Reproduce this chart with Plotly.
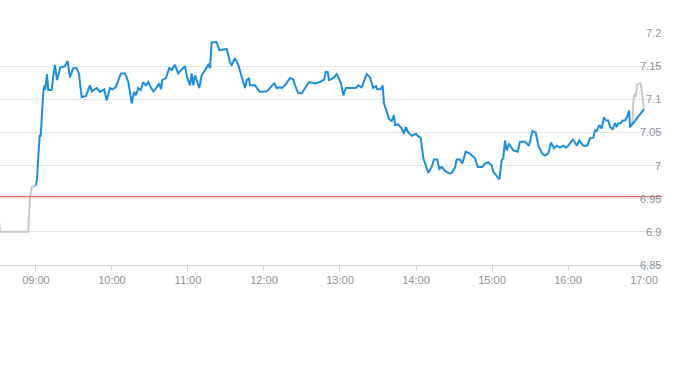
import plotly.graph_objects as go
import pandas as pd

BASE = pd.Timestamp("2024-01-15 09:00")

# pre-market (grey), minutes relative to 09:00
pre_minutes = [-30, -28.2, -6.1, -4.7, -3.2, 0]
pre_prices = [6.927, 6.900, 6.900, 6.952, 6.968, 6.970]

# regular session (blue)
main_minutes = [0, 0.8, 2.9, 3.7, 5.8, 6.6, 7.3, 8.7, 9.7, 12.4, 13.4, 15.0, 16.6, 19.2, 22.9, 25.0,
                26.8, 29.4, 32.1, 33.9, 36.1, 39.5, 42.6, 44.0, 47.9, 50.5, 53.9, 55.8, 58.4, 60.2,
                62.9, 67.1, 70.3, 72.9, 75.6, 77.4, 78.9, 80.8, 82.7, 84.7, 86.8, 88.7, 90.6, 92.6,
                95.3, 97.3, 98.7, 99.7, 102.6, 105.2, 107.1, 109.7, 112.3, 115.0, 117.6, 119.4,
                121.6, 122.9, 124.2, 125.5, 128.9, 130.8, 134.2, 136.0, 137.4, 138.7, 142.7, 144.7,
                150.6, 153.2, 154.5, 157.1, 159.7, 162.4, 165.0, 166.4, 168.2, 168.9, 172.9, 176.8,
                182.1, 184.7, 188.1, 190.0, 192.6, 194.0, 196.6, 200.5, 203.1, 204.5, 207.1, 209.8,
                212.4, 215.5, 220.3, 224.2, 227.6, 228.7, 230.3, 231.3, 234.7, 237.4, 240.8, 242.6,
                244.0, 244.7, 252.6, 254.4, 257.1, 261.1, 263.7, 266.3, 268.4, 269.4, 272.1, 273.7,
                274.7, 276.9, 278.9, 280.8, 282.6, 283.4, 286.0, 288.7, 290.5, 292.1, 293.9, 296.6,
                300.0, 301.8, 303.7, 305.8, 307.9, 309.7, 312.4, 314.2, 316.8, 318.4, 320.3, 322.9,
                326.3, 328.2, 330.8, 332.1, 334.7, 336.6, 339.2, 342.6, 346.6, 348.7, 352.3, 354.5,
                357.1, 359.8, 361.0, 363.7, 365.8, 367.6, 368.9, 370.3, 371.6, 373.4, 376.8, 380.3,
                382.1, 386.1, 389.2, 391.8, 394.5, 396.6, 398.7, 399.7, 401.8, 404.4, 406.6, 408.9,
                411.1, 413.7, 416.3, 418.4, 420.2, 423.7, 425.5, 426.9, 428.9, 430.8, 432.1, 435.2,
                437.4, 440.0, 441.3, 442.7, 444.7, 446.6, 448.4, 450.0, 451.8, 453.2, 455.3, 457.1,
                458.4, 459.7, 461.6, 463.2, 465.0, 466.8, 468.2, 469.0, 480.0]
main_prices = [6.970, 6.980, 7.045, 7.045, 7.111, 7.121, 7.114, 7.138, 7.114, 7.114, 7.132, 7.152,
               7.129, 7.148, 7.150, 7.158, 7.133, 7.147, 7.147, 7.139, 7.103, 7.105, 7.121, 7.112,
               7.117, 7.111, 7.115, 7.098, 7.117, 7.115, 7.118, 7.139, 7.139, 7.126, 7.094, 7.111,
               7.106, 7.117, 7.114, 7.126, 7.121, 7.126, 7.118, 7.112, 7.118, 7.124, 7.115, 7.129,
               7.132, 7.147, 7.144, 7.152, 7.139, 7.144, 7.150, 7.133, 7.121, 7.139, 7.121, 7.136,
               7.117, 7.136, 7.147, 7.152, 7.147, 7.186, 7.186, 7.174, 7.176, 7.155, 7.152, 7.162,
               7.152, 7.133, 7.117, 7.129, 7.132, 7.121, 7.121, 7.111, 7.112, 7.117, 7.124, 7.117,
               7.118, 7.117, 7.121, 7.132, 7.130, 7.121, 7.109, 7.109, 7.117, 7.126, 7.124, 7.126,
               7.130, 7.141, 7.141, 7.129, 7.132, 7.138, 7.124, 7.106, 7.114, 7.117, 7.117, 7.121,
               7.118, 7.138, 7.133, 7.117, 7.120, 7.115, 7.115, 7.121, 7.094, 7.080, 7.070, 7.067,
               7.076, 7.061, 7.062, 7.056, 7.048, 7.058, 7.050, 7.045, 7.048, 7.044, 7.042, 7.011,
               7.000, 6.989, 6.998, 7.009, 7.009, 6.995, 6.998, 6.992, 6.988, 6.989, 6.997, 7.009,
               7.009, 7.003, 7.021, 7.018, 7.011, 6.998, 6.998, 7.003, 7.005, 7.000, 6.991, 6.985,
               6.979, 7.008, 7.011, 7.038, 7.023, 7.033, 7.023, 7.021, 7.036, 7.036, 7.030, 7.052,
               7.050, 7.030, 7.020, 7.018, 7.015, 7.018, 7.035, 7.026, 7.030, 7.027, 7.030, 7.027,
               7.030, 7.039, 7.035, 7.030, 7.038, 7.033, 7.030, 7.030, 7.041, 7.042, 7.053, 7.052,
               7.061, 7.056, 7.073, 7.068, 7.068, 7.058, 7.055, 7.064, 7.058, 7.064, 7.064, 7.068,
               7.068, 7.074, 7.083, 7.058, 7.085]

# post-market (grey)
post_minutes = [470.5, 471.1, 471.6, 472.5, 473.3, 474.5, 476.1, 477.4, 480.0]
post_prices = [7.062, 7.073, 7.098, 7.109, 7.103, 7.121, 7.124, 7.124, 7.085]

ref_price = 6.953

y_ticks = [6.85, 6.9, 6.95, 7.0, 7.05, 7.1, 7.15, 7.2]
y_labels = ["6.85", "6.9", "6.95", "7", "7.05", "7.1", "7.15", "7.2"]
x_tick_hours = [9, 10, 11, 12, 13, 14, 15, 16, 17]

LABEL_COLOR = "#8a949e"
FONT = "Liberation Sans, Arial, sans-serif"


def to_time(mins):
    return [BASE + pd.Timedelta(minutes=m) for m in mins]


x_start = BASE + pd.Timedelta(minutes=-28.4)
x_end = BASE + pd.Timedelta(minutes=494.2)

fig = go.Figure()
fig.add_trace(go.Scatter(x=to_time(pre_minutes), y=pre_prices, mode="lines",
                         line=dict(color="#c3cbd2", width=2), hoverinfo="skip"))
fig.add_trace(go.Scatter(x=to_time(post_minutes), y=post_prices, mode="lines",
                         line=dict(color="#c3cbd2", width=2), hoverinfo="skip"))
fig.add_trace(go.Scatter(x=to_time(main_minutes), y=main_prices, mode="lines",
                         line=dict(color="#1a8fe0", width=2), hoverinfo="skip"))
fig.add_trace(go.Scatter(x=[x_start, x_end], y=[ref_price, ref_price], mode="lines",
                         line=dict(color="#d9443a", width=1), hoverinfo="skip"))

tickvals = [pd.Timestamp("2024-01-15") + pd.Timedelta(hours=h) for h in x_tick_hours]

# right-aligned price labels at the tick values of the y scale
for v, t in zip(y_ticks, y_labels):
    fig.add_annotation(x=1.0, xref="paper", xanchor="right", xshift=1, y=v, yref="y",
                       yanchor="middle", text=t, showarrow=False,
                       font=dict(family=FONT, size=11, color=LABEL_COLOR))

fig.update_layout(
    width=693, height=365,
    margin=dict(l=0, r=31, t=33, b=100, pad=0),
    paper_bgcolor="white", plot_bgcolor="white",
    showlegend=False,
    font=dict(family=FONT, size=11, color=LABEL_COLOR),
    xaxis=dict(
        type="date", range=[x_start, x_end], automargin=False,
        tickvals=tickvals, tickformat="%H:%M",
        showgrid=False, zeroline=False,
        showline=True, linecolor="#ccd3da", linewidth=1,
        ticks="outside", ticklen=5, tickcolor="#ccd3da",
        tickfont=dict(size=11, color=LABEL_COLOR),
    ),
    yaxis=dict(
        range=[6.85, 7.2], automargin=False,
        side="right", showticklabels=False,
        tickvals=y_ticks,
        showgrid=True, gridcolor="#e4e7ea", gridwidth=1,
        zeroline=False, showline=False,
    ),
)

fig.write_html("out.html",
               config={"displayModeBar": False},
               post_script="document.body.style.margin='0';document.body.style.padding='0';")
